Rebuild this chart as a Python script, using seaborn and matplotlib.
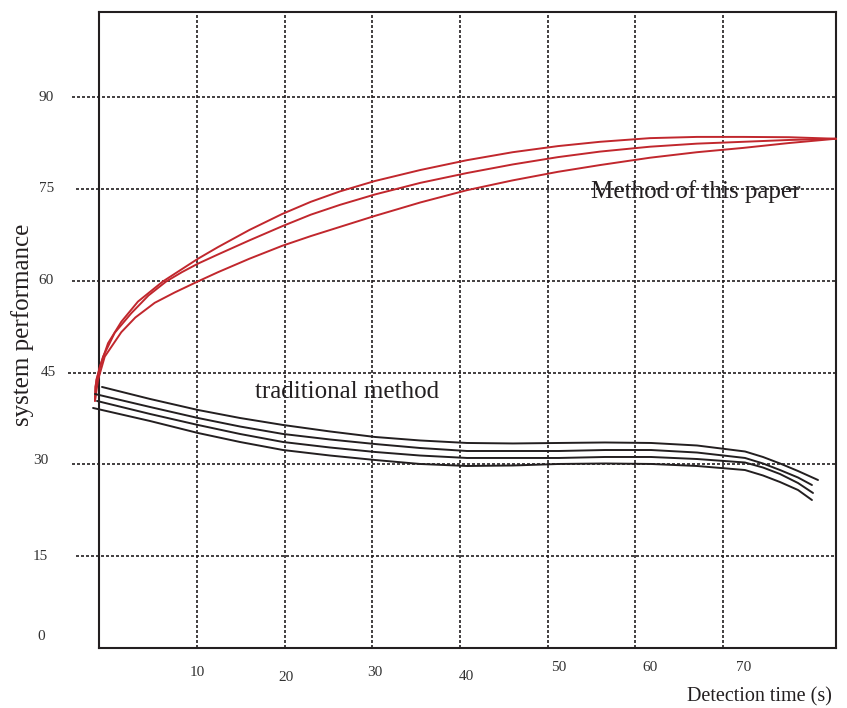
import pandas as pd
import matplotlib
matplotlib.use("Agg")
import matplotlib.pyplot as plt
import seaborn as sns

# curves: x = detection time (s), y = system performance
paper_a_x = [-1.60, -1.56, -1.06, -0.11, 1.40, 3.30, 6.15, 10.14, 12.42, 16.0, 19.72, 23.0, 26.32, 30.31,
             35.5, 40.80, 46.0, 51.17, 55.95, 61.65, 67.0, 72.25, 77.5, 82.85]
paper_a_y = [40.4, 42.7, 45.9, 49.8, 53.3, 56.6, 59.9, 63.6, 65.5, 68.3, 70.9, 72.9, 74.6, 76.3,
             78.1, 79.7, 81.0, 82.0, 82.7, 83.3, 83.5, 83.5, 83.45, 83.2]
paper_b_x = [-1.60, -1.45, -0.68, 0.65, 2.54, 4.5, 6.53, 8.3, 10.14, 12.42, 16.0, 19.72, 23.0, 26.32,
             30.31, 35.5, 40.80, 46.0, 51.17, 55.95, 61.65, 67.0, 72.25, 77.5, 82.85]
paper_b_y = [40.4, 43.8, 47.6, 51.5, 54.7, 57.6, 59.9, 61.4, 62.8, 64.3, 66.6, 68.9, 70.8, 72.4,
             74.1, 76.0, 77.6, 79.0, 80.2, 81.1, 81.9, 82.4, 82.7, 83.0, 83.2]
paper_c_x = [-1.60, -1.25, -0.49, 1.40, 3.0, 5.21, 7.5, 10.14, 12.42, 16.0, 19.72, 23.0, 26.32, 30.31,
             35.5, 40.80, 46.0, 51.17, 55.95, 61.65, 67.0, 72.25, 77.5, 82.85]
paper_c_y = [40.4, 43.8, 47.6, 51.6, 54.0, 56.4, 58.1, 59.9, 61.4, 63.6, 65.7, 67.3, 68.8, 70.6,
             72.8, 74.8, 76.4, 77.8, 78.9, 80.1, 81.0, 81.7, 82.5, 83.2]

trad_1_x = [-0.80, 4.67, 10.14, 14.93, 19.83, 25.19, 30.31, 35.44, 40.80, 46.04, 51.28, 56.52,
            61.77, 67.01, 72.48, 74.53, 76.47, 78.52, 80.80]
trad_1_y = [42.65, 40.69, 38.89, 37.58, 36.44, 35.38, 34.48, 33.91, 33.50, 33.42, 33.50, 33.58,
            33.50, 33.09, 32.11, 31.21, 30.15, 28.92, 27.45]
trad_2_x = [-1.60, 4.67, 10.14, 14.93, 19.83, 25.19, 30.31, 35.44, 40.80, 46.04, 51.28, 56.52,
            61.77, 67.01, 72.48, 74.53, 76.47, 78.52, 80.11]
trad_2_y = [41.50, 39.38, 37.58, 36.19, 34.97, 34.07, 33.33, 32.68, 32.19, 32.19, 32.19, 32.35,
            32.35, 31.94, 31.05, 30.15, 29.08, 27.86, 26.63]
trad_3_x = [-1.37, 4.67, 10.14, 14.93, 19.83, 25.19, 30.31, 35.44, 40.80, 46.04, 51.28, 56.52,
            61.77, 67.01, 72.48, 74.53, 76.47, 78.52, 80.23]
trad_3_y = [40.36, 38.24, 36.44, 34.97, 33.66, 32.76, 32.03, 31.45, 31.05, 31.05, 31.05, 31.21,
            31.21, 30.88, 30.31, 29.49, 28.43, 26.96, 25.33]
trad_4_x = [-1.82, 4.67, 10.14, 14.93, 19.83, 25.19, 30.31, 35.44, 40.80, 46.04, 51.28, 56.52,
            61.77, 67.01, 72.48, 74.53, 76.47, 78.52, 80.11]
trad_4_y = [39.22, 37.09, 35.13, 33.66, 32.35, 31.45, 30.72, 30.07, 29.74, 29.82, 30.07, 30.15,
            30.07, 29.74, 29.08, 28.19, 27.12, 25.82, 24.18]

x_ticks = [10, 20, 30, 40, 50, 60, 70]
y_ticks = [0, 15, 30, 45, 60, 75, 90]

# hand-placed label offsets (the original labels sit a bit off the grid)
x_label_shift = [0.1, 0.2, 0.3, 0.7, 1.2, 1.7, 2.3]
x_label_y = [-0.039, -0.046, -0.039, -0.044, -0.031, -0.031, -0.031]
y_label_x = [-0.079, -0.079, -0.079, -0.069, -0.072, -0.071, -0.072]
y_label_shift = [1.9, 0, 0.6, 0, 0, 0, 0]
hgrid_start = [-0.031, -0.037, -0.042, -0.037, -0.031, -0.037]

curves = [
    ("Method of this paper", "p1", paper_a_x, paper_a_y),
    ("Method of this paper", "p2", paper_b_x, paper_b_y),
    ("Method of this paper", "p3", paper_c_x, paper_c_y),
    ("traditional method", "t1", trad_1_x, trad_1_y),
    ("traditional method", "t2", trad_2_x, trad_2_y),
    ("traditional method", "t3", trad_3_x, trad_3_y),
    ("traditional method", "t4", trad_4_x, trad_4_y),
]
frames = []
for method, name, xs, ys in curves:
    frames.append(pd.DataFrame({"time": xs, "perf": ys, "method": method, "curve": name}))
df = pd.concat(frames, ignore_index=True)

sns.set_style("white")
plt.rcParams['font.family'] = ['Liberation Serif', 'DejaVu Serif']

ink = '#231f20'
red = '#c1272d'

fig = plt.figure(figsize=(8.47, 7.08), dpi=100)
ax = fig.add_axes([0.1169, 0.0847, 0.8701, 0.8983])

sns.lineplot(data=df, x='time', y='perf', hue='method', units='curve', estimator=None,
             palette={'Method of this paper': red, 'traditional method': ink},
             legend=False, linewidth=1.4, ax=ax, zorder=3)
for ln in ax.lines:
    ln.set_clip_on(False)
    ln.set_solid_joinstyle('round')

ax.set_xlim(-1.14, 82.85)
ax.set_ylim(0, 103.9)
ax.set_xticks([])
ax.set_yticks([])
ax.set_xlabel('')
ax.set_ylabel('')

# dotted grid, horizontal lines reach out past the left spine
grid_style = dict(color=ink, linewidth=1.2, linestyle=(0, (1.8, 1.2)), zorder=1)
for x in x_ticks:
    ax.axvline(x, **grid_style)
for y, start in zip(y_ticks[1:], hgrid_start):
    ax.axhline(y, xmin=start, xmax=1, clip_on=False, **grid_style)

for sp in ax.spines.values():
    sp.set_color(ink)
    sp.set_linewidth(1.5)

# tick labels
for x, dx, yy in zip(x_ticks, x_label_shift, x_label_y):
    ax.text(x + dx, yy, str(x), transform=ax.get_xaxis_transform(),
            ha='center', va='center', fontsize=11, color='#333333')
for y, xx, dy in zip(y_ticks, y_label_x, y_label_shift):
    ax.text(xx, y + dy, str(y), transform=ax.get_yaxis_transform(),
            ha='center', va='center', fontsize=11, color='#333333')

# annotations and axis titles
ax.text(54.9, 73.5, 'Method of this paper', ha='left', va='baseline', fontsize=18, color=ink, zorder=4)
ax.text(16.6, 40.85, 'traditional method', ha='left', va='baseline', fontsize=18, color=ink, zorder=4)
ax.text(0.9946, -0.077, 'Detection time (s)', transform=ax.transAxes,
        ha='right', va='center', fontsize=14.5, color=ink)
fig.text(23 / 847, 1 - 324.5 / 708, 'system performance', rotation=90,
         ha='center', va='center', fontsize=18, color=ink)

fig.savefig('out.png', dpi=100)
